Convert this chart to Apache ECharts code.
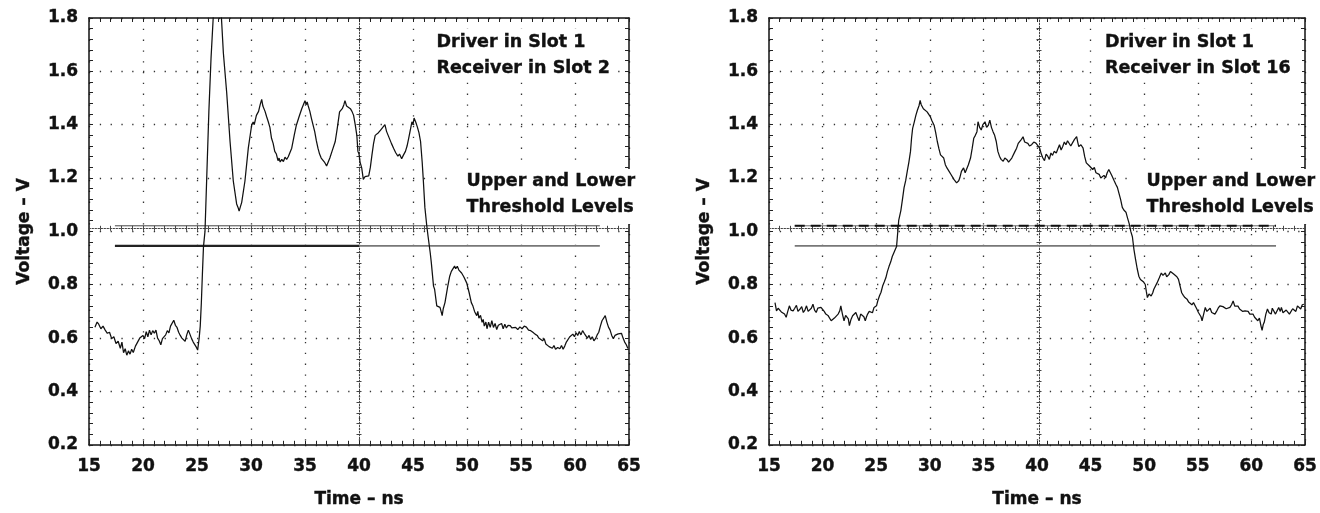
<!DOCTYPE html>
<html><head><meta charset="utf-8">
<script src="https://cdn.jsdelivr.net/npm/echarts@6/dist/echarts.min.js"></script>
<style>html,body{margin:0;padding:0;background:#fff}#c{width:1320px;height:513px}</style>
</head><body><div id="c"></div>
<script>
// ---------- data ----------
const slot2Wave = [
[15.55,0.641],[15.75,0.66],[15.9,0.652],[16.1,0.635],[16.3,0.645],[16.5,0.63],[16.7,0.618],[16.9,0.622],[17.1,0.598],[17.3,0.605],
[17.5,0.58],[17.7,0.588],[17.9,0.562],[18.05,0.585],[18.2,0.545],[18.35,0.56],[18.5,0.536],[18.65,0.552],[18.8,0.54],[18.95,0.558],
[19.1,0.546],[19.3,0.57],[19.5,0.585],[19.7,0.6],[19.85,0.594],[20.0,0.61],[20.15,0.598],[20.3,0.624],[20.45,0.605],[20.6,0.63],
[20.75,0.612],[20.9,0.628],[21.05,0.618],[21.2,0.63],[21.35,0.6],[21.5,0.59],[21.65,0.575],[21.8,0.598],[21.95,0.6],[22.1,0.612],
[22.25,0.628],[22.4,0.62],[22.55,0.645],[22.7,0.652],[22.85,0.667],[23.0,0.648],[23.15,0.64],[23.3,0.622],[23.45,0.61],[23.6,0.6],
[23.75,0.594],[23.9,0.588],[24.05,0.612],[24.2,0.63],[24.35,0.628],[24.5,0.598],[24.65,0.585],[24.8,0.58],[24.95,0.565],[25.06,0.555],
[25.2,0.6],[25.3,0.645],[25.4,0.73],[25.5,0.84],[25.6,0.943],[25.74,1.0],[25.9,1.2],[26.1,1.45],[26.3,1.65],[26.5,1.8],
[26.7,1.88],[27.0,1.9],[27.25,1.81],[27.44,1.67],[27.75,1.52],[28.06,1.337],[28.36,1.189],[28.67,1.103],[28.8,1.09],[28.9,1.076],
[29.0,1.09],[29.14,1.109],[29.44,1.189],[29.75,1.312],[30.06,1.398],[30.2,1.41],[30.3,1.40],[30.5,1.435],[30.7,1.45],[30.85,1.475],
[30.99,1.495],[31.1,1.47],[31.2,1.475],[31.3,1.45],[31.45,1.43],[31.6,1.411],[31.75,1.39],[31.9,1.349],[32.05,1.33],[32.2,1.30],
[32.35,1.29],[32.5,1.265],[32.6,1.275],[32.7,1.26],[32.85,1.27],[33.0,1.262],[33.15,1.278],[33.3,1.27],[33.45,1.28],[33.6,1.295],
[33.77,1.312],[34.0,1.36],[34.2,1.398],[34.45,1.43],[34.7,1.46],[34.85,1.475],[35.0,1.49],[35.1,1.475],[35.2,1.485],[35.3,1.47],
[35.45,1.45],[35.6,1.423],[35.9,1.374],[36.05,1.34],[36.2,1.312],[36.35,1.29],[36.5,1.275],[36.65,1.27],[36.8,1.26],[36.9,1.255],
[37.0,1.245],[37.15,1.26],[37.3,1.275],[37.5,1.30],[37.8,1.337],[38.0,1.39],[38.2,1.448],[38.45,1.46],[38.6,1.475],[38.7,1.49],
[38.85,1.47],[39.0,1.475],[39.2,1.46],[39.35,1.45],[39.5,1.435],[39.65,1.40],[39.8,1.36],[39.9,1.30],[40.0,1.29],[40.1,1.26],
[40.25,1.238],[40.4,1.195],[40.55,1.205],[40.7,1.20],[40.9,1.208],[41.05,1.24],[41.2,1.287],[41.35,1.33],[41.5,1.36],[41.65,1.36],
[41.8,1.37],[42.0,1.38],[42.2,1.39],[42.4,1.40],[42.55,1.375],[42.7,1.36],[42.85,1.345],[43.0,1.33],[43.2,1.312],[43.4,1.295],
[43.6,1.282],[43.75,1.29],[43.95,1.272],[44.1,1.285],[44.3,1.30],[44.45,1.32],[44.6,1.349],[44.75,1.38],[44.9,1.411],[45.0,1.40],
[45.1,1.425],[45.25,1.41],[45.4,1.392],[45.55,1.37],[45.7,1.337],[45.85,1.26],[45.96,1.189],[46.1,1.09],[46.27,1.023],[46.4,0.98],
[46.6,0.918],[46.7,0.881],[46.9,0.795],[47.0,0.783],[47.2,0.721],[47.35,0.72],[47.5,0.715],[47.6,0.70],[47.7,0.684],[47.8,0.71],
[47.96,0.733],[48.2,0.79],[48.4,0.832],[48.55,0.85],[48.7,0.857],[48.85,0.87],[48.95,0.86],[49.1,0.869],[49.25,0.855],[49.35,0.862],
[49.5,0.844],[49.7,0.83],[49.97,0.807],[50.2,0.77],[50.4,0.733],[50.55,0.72],[50.7,0.70],[50.9,0.684],[51.0,0.70],[51.1,0.675],
[51.25,0.685],[51.4,0.659],[51.5,0.67],[51.6,0.645],[51.75,0.66],[51.85,0.635],[52.0,0.66],[52.15,0.64],[52.3,0.665],[52.45,0.64],
[52.6,0.655],[52.75,0.632],[52.9,0.648],[53.05,0.641],[53.2,0.655],[53.35,0.635],[53.5,0.652],[53.65,0.638],[53.8,0.648],[54.0,0.647],
[54.15,0.638],[54.3,0.645],[54.5,0.64],[54.7,0.632],[54.9,0.642],[55.1,0.635],[55.3,0.645],[55.5,0.641],[55.7,0.63],[55.9,0.628],
[56.1,0.622],[56.3,0.615],[56.5,0.61],[56.65,0.6],[56.8,0.606],[57.0,0.59],[57.15,0.598],[57.3,0.578],[57.45,0.582],[57.6,0.568],
[57.75,0.575],[57.9,0.562],[58.05,0.572],[58.2,0.558],[58.4,0.565],[58.6,0.56],[58.75,0.572],[58.9,0.558],[59.05,0.57],[59.2,0.585],
[59.35,0.578],[59.5,0.604],[59.65,0.598],[59.8,0.615],[59.95,0.605],[60.1,0.62],[60.25,0.61],[60.4,0.625],[60.55,0.612],[60.7,0.628],
[60.85,0.618],[61.0,0.622],[61.15,0.6],[61.3,0.61],[61.45,0.595],[61.6,0.605],[61.75,0.59],[61.9,0.598],[62.05,0.612],[62.2,0.622],
[62.35,0.645],[62.5,0.665],[62.65,0.67],[62.8,0.684],[62.95,0.66],[63.1,0.641],[63.25,0.63],[63.4,0.61],[63.55,0.598],[63.7,0.61],
[63.85,0.605],[64.0,0.616],[64.15,0.61],[64.3,0.618],[64.45,0.6],[64.6,0.585],[64.75,0.575],[64.9,0.561]
];
const slot16Wave = [
[15.56,0.733],[15.7,0.702],[15.85,0.712],[16.0,0.715],[16.15,0.698],[16.3,0.702],[16.45,0.69],[16.6,0.678],[16.75,0.70],[16.9,0.721],
[17.05,0.705],[17.25,0.702],[17.4,0.712],[17.56,0.723],[17.7,0.70],[17.9,0.709],[18.05,0.718],[18.2,0.696],[18.35,0.705],[18.5,0.721],
[18.65,0.70],[18.8,0.696],[18.95,0.712],[19.1,0.727],[19.25,0.705],[19.4,0.696],[19.55,0.712],[19.7,0.709],[19.85,0.715],[19.97,0.721],
[20.15,0.70],[20.3,0.69],[20.5,0.685],[20.65,0.678],[20.8,0.665],[20.95,0.659],[21.1,0.675],[21.27,0.672],[21.45,0.69],[21.6,0.702],
[21.7,0.721],[21.85,0.69],[22.0,0.665],[22.15,0.685],[22.3,0.69],[22.4,0.672],[22.5,0.647],[22.65,0.67],[22.8,0.684],[22.95,0.69],
[23.1,0.696],[23.25,0.68],[23.4,0.665],[23.55,0.69],[23.7,0.696],[23.85,0.68],[23.98,0.665],[24.1,0.68],[24.2,0.69],[24.35,0.70],
[24.5,0.702],[24.65,0.695],[24.8,0.715],[24.9,0.708],[25.03,0.721],[25.15,0.74],[25.3,0.758],[25.45,0.772],[25.6,0.795],[25.75,0.81],
[25.9,0.826],[26.05,0.85],[26.2,0.869],[26.35,0.885],[26.5,0.906],[26.7,0.925],[26.9,0.943],[27.0,0.992],[27.1,1.041],[27.3,1.078],
[27.45,1.12],[27.6,1.164],[27.75,1.19],[27.9,1.226],[28.05,1.26],[28.2,1.30],[28.3,1.35],[28.4,1.386],[28.55,1.41],[28.7,1.435],
[28.85,1.455],[29.0,1.472],[29.1,1.491],[29.2,1.475],[29.3,1.482],[29.4,1.46],[29.55,1.465],[29.75,1.448],[29.9,1.445],[30.06,1.429],
[30.2,1.415],[30.4,1.398],[30.55,1.37],[30.7,1.337],[30.85,1.31],[31.0,1.287],[31.15,1.28],[31.3,1.275],[31.45,1.25],[31.6,1.238],
[31.8,1.225],[31.95,1.215],[32.1,1.208],[32.25,1.195],[32.4,1.189],[32.5,1.182],[32.6,1.177],[32.7,1.19],[32.8,1.201],[32.95,1.225],
[33.15,1.238],[33.3,1.22],[33.45,1.226],[33.6,1.25],[33.8,1.275],[33.95,1.31],[34.1,1.349],[34.25,1.36],[34.4,1.374],[34.5,1.411],
[34.65,1.39],[34.8,1.38],[34.95,1.40],[35.15,1.411],[35.3,1.39],[35.46,1.398],[35.6,1.417],[35.75,1.39],[35.9,1.374],[36.05,1.36],
[36.2,1.337],[36.35,1.30],[36.5,1.282],[36.65,1.27],[36.85,1.263],[37.0,1.275],[37.2,1.269],[37.35,1.26],[37.5,1.263],[37.65,1.275],
[37.8,1.282],[37.95,1.30],[38.1,1.312],[38.25,1.33],[38.4,1.325],[38.55,1.345],[38.7,1.355],[38.85,1.335],[39.0,1.337],[39.15,1.33],
[39.3,1.32],[39.5,1.325],[39.7,1.335],[39.9,1.331],[40.05,1.325],[40.25,1.312],[40.4,1.29],[40.55,1.275],[40.7,1.265],[40.85,1.29],
[41.0,1.282],[41.15,1.27],[41.3,1.294],[41.45,1.285],[41.6,1.3],[41.8,1.294],[41.95,1.31],[42.1,1.325],[42.25,1.305],[42.4,1.318],
[42.55,1.335],[42.7,1.325],[42.85,1.34],[43.0,1.343],[43.15,1.32],[43.3,1.331],[43.5,1.345],[43.7,1.355],[43.8,1.335],[43.9,1.318],
[44.1,1.325],[44.3,1.312],[44.45,1.28],[44.6,1.257],[44.75,1.26],[44.9,1.245],[45.05,1.25],[45.2,1.232],[45.35,1.24],[45.5,1.22],
[45.65,1.225],[45.8,1.214],[45.95,1.2],[46.1,1.195],[46.25,1.21],[46.4,1.201],[46.55,1.22],[46.7,1.232],[46.85,1.22],[47.0,1.208],
[47.2,1.19],[47.35,1.177],[47.5,1.165],[47.65,1.158],[47.8,1.12],[47.96,1.09],[48.1,1.08],[48.3,1.072],[48.45,1.05],[48.6,1.029],
[48.75,1.00],[48.9,0.98],[49.05,0.931],[49.2,0.894],[49.35,0.86],[49.5,0.832],[49.65,0.82],[49.8,0.813],[49.95,0.81],[50.1,0.801],
[50.2,0.775],[50.3,0.752],[50.45,0.765],[50.65,0.758],[50.8,0.77],[50.9,0.783],[51.05,0.79],[51.2,0.807],[51.4,0.825],[51.6,0.844],
[51.75,0.835],[51.97,0.844],[52.1,0.83],[52.3,0.838],[52.45,0.85],[52.6,0.857],[52.75,0.84],[52.9,0.838],[53.05,0.83],[53.2,0.82],
[53.35,0.795],[53.5,0.77],[53.65,0.76],[53.8,0.752],[54.0,0.746],[54.15,0.735],[54.3,0.739],[54.45,0.725],[54.6,0.733],[54.75,0.727],
[54.9,0.71],[55.06,0.696],[55.2,0.70],[55.3,0.68],[55.4,0.665],[55.55,0.69],[55.7,0.715],[55.85,0.70],[56.0,0.702],[56.15,0.712],
[56.3,0.696],[56.45,0.70],[56.6,0.69],[56.75,0.70],[56.9,0.712],[57.06,0.721],[57.2,0.715],[57.35,0.718],[57.5,0.721],[57.65,0.71],
[57.8,0.712],[58.0,0.715],[58.15,0.725],[58.3,0.739],[58.45,0.72],[58.6,0.715],[58.75,0.72],[58.9,0.709],[59.05,0.712],[59.2,0.70],
[59.4,0.702],[59.55,0.695],[59.7,0.70],[59.85,0.69],[60.0,0.685],[60.15,0.69],[60.3,0.678],[60.45,0.672],[60.6,0.665],[60.75,0.675],
[60.9,0.645],[61.0,0.629],[61.1,0.65],[61.2,0.659],[61.35,0.69],[61.5,0.709],[61.65,0.695],[61.85,0.69],[61.95,0.712],[62.1,0.709],
[62.25,0.69],[62.4,0.696],[62.55,0.715],[62.7,0.70],[62.8,0.715],[62.95,0.695],[63.1,0.69],[63.25,0.705],[63.4,0.709],[63.55,0.69],
[63.7,0.696],[63.85,0.71],[64.0,0.715],[64.15,0.70],[64.3,0.721],[64.45,0.715],[64.6,0.709],[64.75,0.725],[64.9,0.727]
];
const upperThreshold = 1.021;
const lowerThreshold = 0.946;
const thresholdStart = 17.4;
const thresholdEnd = 62.3;
const lowerBoldEnd = 40;
const panelTexts = [
  ['Driver in Slot 1', 'Receiver in Slot 2'],
  ['Driver in Slot 1', 'Receiver in Slot 16']
];
const thresholdNote = ['Upper and Lower', 'Threshold Levels'];
const timeMin = 15, timeMax = 65, timeStep = 5;
const voltMin = 0.2, voltMax = 1.8, voltStep = 0.2;
const timeName = 'Time – ns';
const voltName = 'Voltage – V';

// ---------- layout / styling ----------
const FONT = 'DejaVu Sans';
const grids = [
  {left: 89, top: 18, width: 540, height: 433},
  {left: 769, top: 18, width: 540, height: 433}
];
const labelStyle = {fontFamily: FONT, fontWeight: 'bold', fontSize: 17, color: '#111',
  textBorderColor: '#111', textBorderWidth: 0.4};
const dotted = {color: '#333', width: 1.3, type: [1.3, 9.5]};
const tickStyle = {color: '#222', width: 1};
const xAxes = [], yAxes = [], series = [], graphics = [];

grids.forEach((g, i) => {
  const xb = {gridIndex: i, type: 'value', min: timeMin, max: timeMax, interval: timeStep};
  const yb = {gridIndex: i, type: 'value', min: voltMin, max: voltMax, interval: voltStep};
  const mainX = xAxes.length, mainY = yAxes.length;
  // bottom (labels + grid)
  xAxes.push(Object.assign({}, xb, {
    position: 'bottom', name: timeName, nameLocation: 'middle', nameGap: 46,
    nameTextStyle: labelStyle,
    axisLine: {onZero: false, lineStyle: {color: '#111', width: 1.5}},
    axisTick: {inside: true, length: 4, lineStyle: tickStyle},
    minorTick: {show: true, splitNumber: 5, length: 4, lineStyle: tickStyle},
    axisLabel: Object.assign({margin: 13}, labelStyle),
    splitLine: {show: true, lineStyle: dotted}
  }));
  // top border
  xAxes.push(Object.assign({}, xb, {
    position: 'top',
    axisLine: {onZero: false, lineStyle: {color: '#111', width: 1.5}},
    axisTick: {inside: true, length: 4, lineStyle: tickStyle},
    minorTick: {show: true, splitNumber: 5, length: 4, lineStyle: tickStyle},
    axisLabel: {show: false}, splitLine: {show: false}
  }));
  // horizontal centre line (1.0 V)
  [true, false].forEach(inside => {
    xAxes.push(Object.assign({}, xb, {
      position: 'bottom', offset: -g.height / 2,
      axisLine: {show: inside, onZero: false, lineStyle: {color: '#444', width: 1, type: [1.5, 1.5]}},
      axisTick: {inside: inside, length: 2.5, lineStyle: {color: '#444', width: 1}},
      minorTick: {show: true, splitNumber: 5, length: 2.5, lineStyle: {color: '#444', width: 1}},
      axisLabel: {show: false}, splitLine: {show: false}
    }));
  });
  // left (labels + grid)
  yAxes.push(Object.assign({}, yb, {
    position: 'left', name: voltName, nameLocation: 'middle', nameGap: 56, nameRotate: 90,
    nameTextStyle: labelStyle,
    axisLine: {onZero: false, lineStyle: {color: '#111', width: 1.5}},
    axisTick: {inside: true, length: 4, lineStyle: tickStyle},
    minorTick: {show: true, splitNumber: 5, length: 4, lineStyle: tickStyle},
    axisLabel: Object.assign({margin: 11, formatter: v => v.toFixed(1)}, labelStyle),
    splitLine: {show: true, lineStyle: dotted}
  }));
  // right border
  yAxes.push(Object.assign({}, yb, {
    position: 'right',
    axisLine: {onZero: false, lineStyle: {color: '#111', width: 1.5}},
    axisTick: {inside: true, length: 4, lineStyle: tickStyle},
    minorTick: {show: true, splitNumber: 5, length: 4, lineStyle: tickStyle},
    axisLabel: {show: false}, splitLine: {show: false}
  }));
  // vertical centre line (40 ns)
  [true, false].forEach(inside => {
    yAxes.push(Object.assign({}, yb, {
      position: 'left', offset: -g.width / 2,
      axisLine: {show: inside, onZero: false, lineStyle: {color: '#444', width: 1, type: [1.5, 1.5]}},
      axisTick: {inside: inside, length: 2.5, lineStyle: {color: '#444', width: 1}},
      minorTick: {show: true, splitNumber: 5, length: 2.5, lineStyle: {color: '#444', width: 1}},
      axisLabel: {show: false}, splitLine: {show: false}
    }));
  });

  const lineBase = {type: 'line', xAxisIndex: mainX, yAxisIndex: mainY, showSymbol: false,
    symbol: 'none', silent: true, animation: false, clip: true};
  // thresholds
  if (i === 0) {
    series.push(Object.assign({}, lineBase, {z: 3, data: [[thresholdStart, upperThreshold], [thresholdEnd, upperThreshold]],
      lineStyle: {color: '#444', width: 1}}));
    series.push(Object.assign({}, lineBase, {z: 3, data: [[lowerBoldEnd, lowerThreshold], [thresholdEnd, lowerThreshold]],
      lineStyle: {color: '#777', width: 1.8}}));
    series.push(Object.assign({}, lineBase, {z: 3, data: [[thresholdStart, lowerThreshold], [lowerBoldEnd, lowerThreshold]],
      lineStyle: {color: '#222', width: 2.2}}));
  } else {
    series.push(Object.assign({}, lineBase, {z: 3, data: [[thresholdStart, upperThreshold], [thresholdEnd, upperThreshold]],
      lineStyle: {color: '#666', width: 1}}));
    series.push(Object.assign({}, lineBase, {z: 3, data: [[thresholdStart, upperThreshold], [thresholdEnd, upperThreshold]],
      lineStyle: {color: '#111', width: 2, type: [10, 6]}}));
    series.push(Object.assign({}, lineBase, {z: 3, data: [[thresholdStart, lowerThreshold], [thresholdEnd, lowerThreshold]],
      lineStyle: {color: '#777', width: 1.8}}));
  }
  // waveform
  series.push(Object.assign({}, lineBase, {z: 5, data: i === 0 ? slot2Wave : slot16Wave,
    lineStyle: {color: '#111', width: 1.25}}));

  // annotation boxes
  const font = 'bold 17.5px "' + FONT + '"';
  const topBoxLeft = i === 0 ? 430 : 1093;
  const topBoxRight = i === 0 ? 616 : 1302;
  const textLeft = i === 0 ? 436.5 : 1105;
  const tStyle = {font: font, fill: '#111', stroke: '#111', lineWidth: 0.4,
    textAlign: 'left', textVerticalAlign: 'middle', align: 'left', verticalAlign: 'middle'};
  graphics.push({type: 'rect', z: 50, silent: true,
    shape: {x: topBoxLeft, y: 29, width: topBoxRight - topBoxLeft, height: 50},
    style: {fill: '#fff'}});
  panelTexts[i].forEach((t, k) => graphics.push({type: 'text', z: 51, silent: true,
    x: textLeft, y: 42 + k * 26.7,
    style: Object.assign({text: t}, tStyle)}));
  const noteLeft = g.left + 377.5;
  graphics.push({type: 'rect', z: 50, silent: true,
    shape: {x: g.left + 367, y: 169, width: i === 0 ? 178 : 180, height: 55},
    style: {fill: '#fff'}});
  thresholdNote.forEach((t, k) => graphics.push({type: 'text', z: 51, silent: true,
    x: noteLeft, y: 181.5 + k * 26,
    style: Object.assign({text: t}, tStyle)}));
});

const chart = echarts.init(document.getElementById('c'), null, {renderer: 'canvas'});
chart.setOption({
  animation: false,
  backgroundColor: '#fff',
  grid: grids.map(g => Object.assign({containLabel: false}, g)),
  xAxis: xAxes,
  yAxis: yAxes,
  series: series,
  graphic: graphics
});
</script>
</body></html>
